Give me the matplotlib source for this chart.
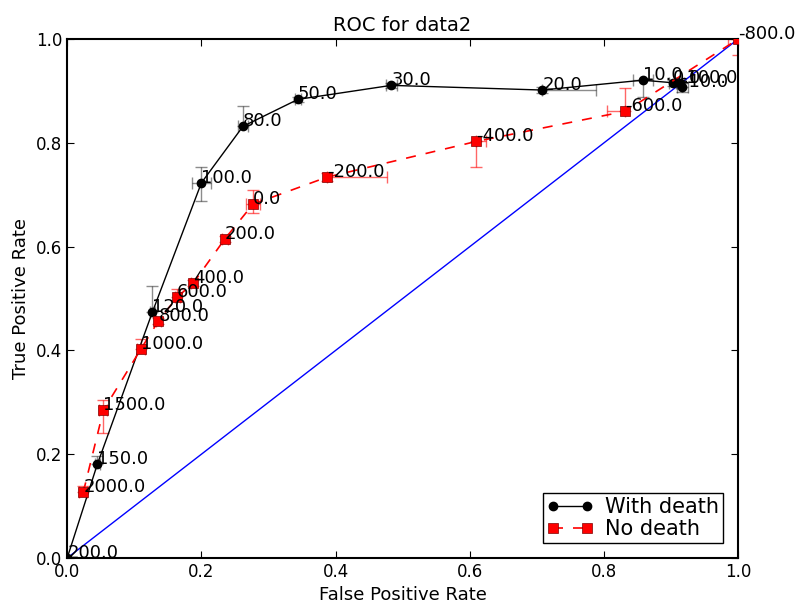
import matplotlib
matplotlib.use("Agg")
import matplotlib.pyplot as plt

# With death series
wd_thr = [200.0, 150.0, 120.0, 100.0, 80.0, 50.0, 30.0, 20.0, 10.0, 0.0, -10.0, -100.0]
wd_fpr = [0.0, 0.045, 0.127, 0.200, 0.262, 0.344, 0.483, 0.708, 0.858, 0.903, 0.917, 0.913]
wd_tpr = [0.0, 0.181, 0.474, 0.723, 0.832, 0.884, 0.911, 0.902, 0.921, 0.916, 0.907, 0.915]
wd_xerr_lo = [0.0, 0.004, 0.004, 0.014, 0.008, 0.004, 0.008, 0.000, 0.015, 0.006, 0.008, 0.006]
wd_xerr_hi = [0.0, 0.004, 0.004, 0.014, 0.008, 0.004, 0.008, 0.080, 0.015, 0.006, 0.008, 0.006]
wd_yerr_lo = [0.0, 0.000, 0.000, 0.035, 0.000, 0.005, 0.005, 0.005, 0.032, 0.006, 0.008, 0.006]
wd_yerr_hi = [0.0, 0.015, 0.050, 0.030, 0.040, 0.005, 0.005, 0.005, 0.000, 0.006, 0.008, 0.006]

# No death series
nd_thr = [2000.0, 1500.0, 1000.0, 800.0, 600.0, 400.0, 200.0, 0.0, -200.0, -400.0, -600.0, -800.0]
nd_fpr = [0.024, 0.054, 0.110, 0.136, 0.164, 0.188, 0.235, 0.277, 0.387, 0.610, 0.832, 1.000]
nd_tpr = [0.127, 0.285, 0.403, 0.457, 0.503, 0.530, 0.615, 0.682, 0.734, 0.803, 0.861, 1.000]
nd_xerr_lo = [0.006, 0.006, 0.006, 0.004, 0.004, 0.004, 0.004, 0.010, 0.000, 0.000, 0.027, 0.015]
nd_xerr_hi = [0.006, 0.006, 0.006, 0.004, 0.004, 0.004, 0.004, 0.010, 0.090, 0.015, 0.000, 0.000]
nd_yerr_lo = [0.000, 0.045, 0.000, 0.005, 0.000, 0.005, 0.005, 0.017, 0.008, 0.050, 0.000, 0.030]
nd_yerr_hi = [0.012, 0.020, 0.020, 0.005, 0.015, 0.005, 0.005, 0.027, 0.008, 0.000, 0.045, 0.000]

fig = plt.figure(figsize=(8, 6.03), dpi=100)
ax = fig.add_axes([0.084, 0.0746, 0.8385, 0.8604])

ax.plot([0, 1], [0, 1], color='blue', lw=1.0, zorder=1)

ax.errorbar(wd_fpr, wd_tpr, xerr=[wd_xerr_lo, wd_xerr_hi], yerr=[wd_yerr_lo, wd_yerr_hi],
            fmt='none', ecolor='black', alpha=0.45, capsize=4, lw=1.0, zorder=2)
ax.plot(wd_fpr, wd_tpr, '-o', color='black', markersize=6, lw=1.0,
        label='With death', zorder=3)

ax.errorbar(nd_fpr, nd_tpr, xerr=[nd_xerr_lo, nd_xerr_hi], yerr=[nd_yerr_lo, nd_yerr_hi],
            fmt='none', ecolor='red', alpha=0.6, capsize=4, lw=1.0, zorder=2)
ax.plot(nd_fpr, nd_tpr, marker='s', linestyle=(0, (6, 6)), color='red',
        markersize=7, lw=1.2, markeredgecolor='#800000', markeredgewidth=0.5,
        label='No death', zorder=3)

for x, y, t in zip(wd_fpr, wd_tpr, wd_thr):
    ax.text(x, y, f"{t:.1f}", fontsize=13, zorder=5)
for x, y, t in zip(nd_fpr, nd_tpr, nd_thr):
    ax.text(x, y, f"{t:.1f}", fontsize=13, zorder=5)

ax.set_xlim(0, 1)
ax.set_ylim(0, 1)
ax.set_xticks([0.0, 0.2, 0.4, 0.6, 0.8, 1.0])
ax.set_yticks([0.0, 0.2, 0.4, 0.6, 0.8, 1.0])
ax.tick_params(direction='in', top=True, right=True, labelsize=12, length=5)
for s in ax.spines.values():
    s.set_linewidth(1.5)
ax.set_xlabel('False Positive Rate', fontsize=13)
ax.set_ylabel('True Positive Rate', fontsize=13)
ax.set_title('ROC for data2', fontsize=14)
leg = ax.legend(loc='lower right', fontsize=15, fancybox=False, framealpha=1,
                edgecolor='black', borderaxespad=0.7, handlelength=2.2,
                numpoints=2, borderpad=0.2, labelspacing=0.1, handletextpad=0.6)
leg.get_frame().set_linewidth(1.0)

fig.savefig('out.png', dpi=100, facecolor='white')
